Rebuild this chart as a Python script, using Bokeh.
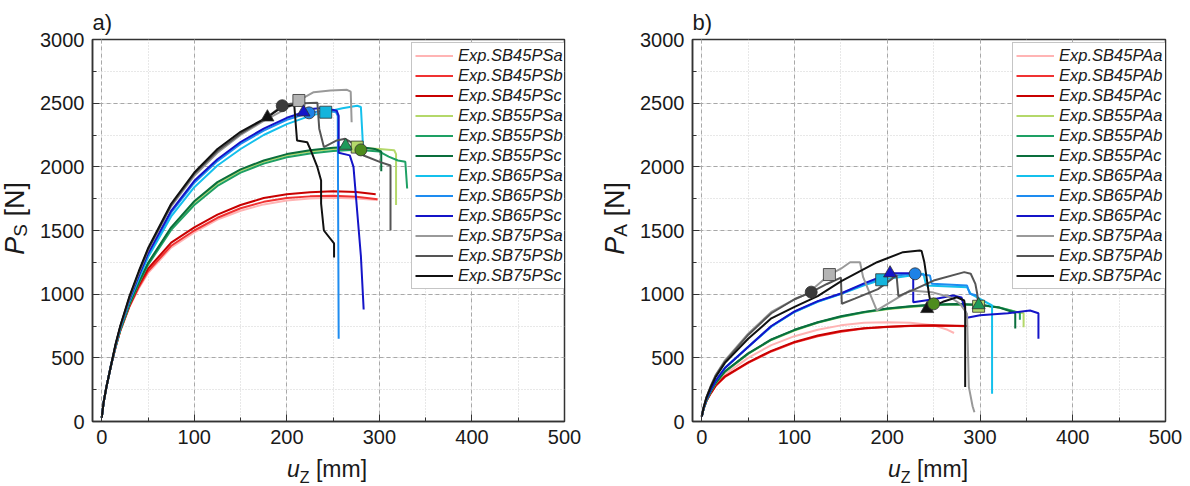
from bokeh.plotting import figure
from bokeh.layouts import row, column
from bokeh.models import Legend, LegendItem, SingleIntervalTicker, Range1d, Div
from bokeh.embed import file_html
from bokeh.resources import INLINE

# ---------------- data: panel a) (P_S) ----------------
a45a_x = [0, 2, 5, 10, 15, 20, 30, 40, 50, 75, 100, 125, 150, 175, 200, 225, 250, 275, 298]
a45a_y = [30, 150, 270, 440, 585, 710, 900, 1045, 1165, 1365, 1485, 1585, 1655, 1705, 1735, 1752, 1758, 1752, 1740]
a45b_x = [0, 2, 5, 10, 15, 20, 30, 40, 50, 75, 100, 125, 150, 175, 200, 225, 250, 275, 298]
a45b_y = [30, 150, 270, 440, 585, 712, 905, 1055, 1180, 1380, 1500, 1600, 1675, 1725, 1755, 1768, 1772, 1765, 1745]
a45c_x = [0, 2, 5, 10, 15, 20, 30, 40, 50, 75, 100, 125, 150, 175, 200, 225, 250, 275, 296]
a45c_y = [30, 150, 270, 440, 585, 715, 910, 1070, 1200, 1405, 1525, 1625, 1700, 1755, 1785, 1800, 1808, 1803, 1785]

a55a_x = [0, 2, 5, 10, 15, 20, 30, 40, 50, 75, 100, 125, 150, 175, 200, 225, 250, 275, 300, 316, 318, 318]
a55a_y = [30, 150, 270, 440, 590, 720, 925, 1090, 1240, 1520, 1720, 1870, 1970, 2040, 2090, 2120, 2140, 2150, 2140, 2130, 2100, 1700]
a55b_x = [0, 2, 5, 10, 15, 20, 30, 40, 50, 75, 100, 125, 150, 175, 200, 225, 250, 275, 300, 310, 320, 328, 330]
a55b_y = [30, 150, 270, 440, 590, 718, 920, 1085, 1230, 1505, 1700, 1850, 1955, 2025, 2075, 2105, 2125, 2135, 2120, 2080, 2050, 2040, 1830]
a55c_x = [0, 2, 5, 10, 15, 20, 30, 40, 50, 75, 100, 125, 150, 175, 200, 225, 250, 275, 295, 302, 302]
a55c_y = [30, 150, 270, 440, 592, 722, 928, 1095, 1245, 1525, 1730, 1880, 1980, 2050, 2100, 2130, 2150, 2160, 2140, 2120, 1965]

a65a_x = [0, 2, 5, 10, 15, 20, 30, 40, 50, 75, 100, 125, 150, 175, 200, 225, 242, 260, 276, 280, 282, 283]
a65a_y = [30, 150, 270, 440, 595, 730, 945, 1120, 1290, 1610, 1840, 2010, 2140, 2250, 2335, 2400, 2430, 2460, 2480, 2470, 2200, 2120]
a65b_x = [0, 2, 5, 10, 15, 20, 30, 40, 50, 75, 100, 125, 150, 175, 200, 224, 240, 253, 255, 256]
a65b_y = [30, 150, 270, 440, 600, 735, 955, 1135, 1310, 1640, 1875, 2045, 2180, 2285, 2370, 2424, 2440, 2430, 2400, 650]
a65c_x = [0, 2, 5, 10, 15, 20, 30, 40, 50, 75, 100, 125, 150, 175, 200, 218, 229, 240, 254, 256, 256, 268, 272, 280, 283]
a65c_y = [30, 150, 270, 440, 600, 740, 960, 1145, 1320, 1655, 1890, 2060, 2195, 2300, 2385, 2429, 2456, 2463, 2440, 2400, 2110, 2090, 2000, 1300, 880]

a75a_x = [0, 2, 5, 10, 15, 20, 30, 40, 50, 75, 100, 125, 150, 175, 200, 213, 229, 247, 265, 269, 270]
a75a_y = [30, 150, 270, 440, 605, 745, 975, 1165, 1345, 1690, 1930, 2110, 2250, 2360, 2460, 2521, 2586, 2600, 2605, 2590, 2350]
a75b_x = [0, 2, 5, 10, 15, 20, 30, 40, 50, 75, 100, 125, 150, 175, 195, 204, 233, 235, 240, 254, 263, 276, 283, 301, 312, 312]
a75b_y = [30, 150, 270, 440, 605, 745, 975, 1170, 1350, 1700, 1945, 2125, 2260, 2370, 2480, 2495, 2503, 2300, 2155, 2207, 2220, 2167, 2089, 2037, 2010, 1500]
a75c_x = [0, 2, 5, 10, 15, 20, 30, 40, 50, 75, 100, 125, 150, 179, 195, 208, 211, 222, 226, 233, 237, 237, 240, 251, 251]
a75c_y = [30, 150, 270, 440, 610, 750, 985, 1180, 1360, 1710, 1955, 2140, 2275, 2390, 2470, 2485, 2207, 2193, 2128, 1997, 1893, 1712, 1500, 1398, 1288]

# markers panel a: (x, y)
a_mk_75a = (213, 2521); a_mk_75b = (195, 2480); a_mk_75c = (179, 2390)
a_mk_65a = (242, 2429); a_mk_65b = (224, 2424); a_mk_65c = (218, 2429)
a_mk_55a = (276, 2155); a_mk_55b = (280, 2133); a_mk_55c = (263.5, 2167)

# ---------------- data: panel b) (P_A) ----------------
b45a_x = [0, 2, 5, 10, 15, 25, 50, 75, 100, 125, 150, 175, 200, 225, 250, 265, 272]
b45a_y = [40, 100, 160, 230, 290, 370, 500, 600, 670, 720, 755, 775, 780, 775, 755, 720, 695]
b45b_x = [0, 2, 5, 10, 15, 25, 50, 75, 100, 125, 150, 175, 200, 225, 250, 275, 285]
b45b_y = [40, 100, 160, 225, 280, 350, 460, 550, 620, 670, 705, 730, 742, 750, 752, 750, 748]
b45c_x = [0, 2, 5, 10, 15, 25, 50, 75, 100, 125, 150, 175, 200, 225, 250, 275, 287]
b45c_y = [40, 100, 160, 225, 282, 355, 465, 555, 625, 675, 710, 733, 745, 752, 755, 752, 750]

b55a_x = [0, 2, 5, 10, 15, 25, 50, 75, 100, 125, 150, 175, 200, 225, 250, 275, 300, 320, 340, 347, 347]
b55a_y = [40, 100, 165, 240, 300, 390, 530, 640, 715, 775, 820, 855, 882, 900, 912, 918, 912, 895, 860, 850, 740]
b55b_x = [0, 2, 5, 10, 15, 25, 50, 75, 100, 125, 150, 175, 200, 225, 250, 275, 300, 320, 338, 343, 343]
b55b_y = [40, 100, 165, 240, 302, 392, 532, 642, 718, 778, 823, 858, 885, 903, 915, 920, 915, 898, 862, 855, 800]
b55c_x = [0, 2, 5, 10, 15, 25, 50, 75, 100, 125, 150, 175, 200, 225, 250, 275, 300, 320, 336, 338, 338]
b55c_y = [40, 100, 165, 242, 304, 395, 535, 645, 720, 780, 826, 861, 888, 906, 918, 922, 916, 896, 858, 850, 730]

b65a_x = [0, 2, 5, 10, 15, 25, 50, 75, 100, 125, 150, 175, 194, 220, 239, 242, 286, 290, 313, 313]
b65a_y = [40, 105, 175, 255, 320, 420, 585, 745, 860, 940, 1000, 1070, 1113, 1140, 1160, 1068, 1055, 1003, 911, 217]
b65b_x = [0, 2, 5, 10, 15, 25, 50, 75, 100, 125, 150, 175, 200, 230, 246, 248, 286, 289, 297, 299]
b65b_y = [40, 105, 175, 255, 320, 422, 588, 748, 862, 942, 1003, 1078, 1140, 1160, 1147, 1081, 1068, 1003, 990, 920]
b65c_x = [0, 2, 5, 10, 15, 25, 50, 75, 100, 125, 150, 175, 203, 232, 228, 228, 250, 271, 280, 286, 300, 330, 354, 363, 363]
b65c_y = [40, 105, 175, 255, 320, 420, 585, 750, 865, 945, 1005, 1085, 1165, 1165, 1150, 937, 960, 990, 975, 814, 835, 850, 872, 850, 650]

b75a_x = [0, 2, 5, 10, 15, 25, 50, 75, 100, 113, 138, 150, 160, 170.6, 174, 188.7, 224.6, 248, 268, 278.6, 286, 288, 292, 294]
b75a_y = [40, 110, 190, 285, 365, 480, 690, 860, 960, 1000, 1154, 1200, 1251, 1251, 1133, 872, 1029, 1016, 976, 924, 846, 270, 120, 73]
b75b_x = [0, 2, 5, 10, 15, 25, 50, 75, 100, 118, 135, 150, 151, 165, 190, 205, 210, 212, 230, 250, 283, 290, 295, 297, 298]
b75b_y = [40, 110, 190, 280, 360, 470, 680, 850, 960, 1016, 1080, 1130, 925, 965, 1040, 1120, 1150, 985, 1040, 1107, 1173, 1160, 1081, 1003, 930]
b75c_x = [0, 2, 5, 10, 15, 25, 50, 75, 100, 125, 150, 189, 217, 235, 237, 240, 245, 248, 243, 260, 275, 283, 284, 284]
b75c_y = [40, 110, 185, 275, 350, 460, 650, 810, 900, 985, 1100, 1251, 1330, 1343, 1340, 1250, 1000, 880, 885, 940, 976, 950, 900, 270]

b_mk_75a = (137.6, 1154); b_mk_75b = (118, 1016); b_mk_75c = (243, 885)
b_mk_65a = (194, 1113); b_mk_65b = (230, 1160); b_mk_65c = (203, 1165)
b_mk_55a = (298.5, 905); b_mk_55b = (250, 924); b_mk_55c = (298.5, 915)

suffixes = ["45a", "45b", "45c", "55a", "55b", "55c", "65a", "65b", "65c", "75a", "75b", "75c"]
colors = ["#ffb4b4", "#f03232", "#c80000",
          "#b4d86a", "#1ea064", "#0a6e3c",
          "#14c0ec", "#1e8cf0", "#1414c8",
          "#999999", "#555555", "#111111"]
marker_color = {"75a": "#b4b4b4", "75b": "#3a3a3a", "75c": "#111111",
                "65a": "#14b4dc", "65b": "#1e82e6", "65c": "#1414c8",
                "55a": "#b4d86a", "55b": "#4e8c1e", "55c": "#1e9a5a"}
marker_shape = {"a": "square", "b": "circle", "c": "triangle"}

FONT = "Liberation Sans"
TXT = "#1a1a1a"
TOP_B, FRAME_H, BOT_B = 39, 382, 35
YDIV_W = 30


def make_fig(tag, letter, series, markers, left_b, frame_w, right_b):
    p = figure(frame_width=frame_w, frame_height=FRAME_H,
               x_range=Range1d(-10, 500), y_range=Range1d(0, 3000),
               output_backend="svg", toolbar_location=None,
               min_border_left=left_b, min_border_right=right_b,
               min_border_top=TOP_B, min_border_bottom=BOT_B, margin=0)
    p.title.text = tag
    p.title.align = "left"
    p.title.text_font = FONT
    p.title.text_font_size = "22px"
    p.title.text_font_style = "normal"
    p.title.text_color = TXT
    p.title.standoff = 10
    p.background_fill_color = "white"
    p.border_fill_color = "white"
    p.outline_line_color = "#333333"
    p.outline_line_width = 1.5
    p.xaxis.ticker = SingleIntervalTicker(interval=100, num_minor_ticks=2)
    p.yaxis.ticker = SingleIntervalTicker(interval=500, num_minor_ticks=2)
    for ax in (p.xaxis, p.yaxis):
        ax.major_tick_in = 7
        ax.major_tick_out = 0
        ax.minor_tick_in = 4
        ax.minor_tick_out = 0
        ax.axis_line_color = "#333333"
        ax.axis_line_width = 1.5
        ax.major_tick_line_color = "#333333"
        ax.minor_tick_line_color = "#333333"
        ax.major_label_text_font = FONT
        ax.major_label_text_font_size = "20px"
        ax.major_label_text_color = TXT
    p.xaxis.major_label_standoff = 8
    p.yaxis.major_label_standoff = 8
    for g in (p.xgrid, p.ygrid):
        g.grid_line_color = "#a8a8a8"
        g.grid_line_dash = "4 3"
        g.grid_line_width = 1
        g.minor_grid_line_color = "#d0d0d0"
        g.minor_grid_line_dash = "1 2"
        g.minor_grid_line_width = 1

    items = []
    for suf, col in zip(suffixes, colors):
        xs, ys = series[suf]
        r = p.line(xs, ys, line_color=col, line_width=2)
        items.append(LegendItem(label="Exp.SB%sP%s%s" % (suf[:2], letter, suf[2]), renderers=[r]))
    for suf, (mx, my) in markers.items():
        p.scatter([mx], [my], marker=marker_shape[suf[2]], size=12 if suf[2] != "c" else 13,
                  fill_color=marker_color[suf], line_color="#303030", line_width=0.8)

    leg = Legend(items=items, location=(319 + (frame_w - 472), FRAME_H - 5 - 245))
    leg.label_text_font = FONT
    leg.label_text_font_style = "italic"
    leg.label_text_font_size = "16.5px"
    leg.label_text_color = TXT
    leg.glyph_width = 38
    leg.glyph_height = 19
    leg.label_height = 19
    leg.label_standoff = 5
    leg.spacing = 1
    leg.padding = 3
    leg.margin = 0
    leg.border_line_color = "#8c8c8c"
    leg.border_line_width = 1
    leg.background_fill_alpha = 1
    p.add_layout(leg)
    return p


def xlabel_div(width, left):
    html = ('<div style="font-family:\'Liberation Sans\';font-size:23px;line-height:23px;'
            'color:%s;padding-left:%dpx;padding-top:2px;white-space:nowrap">'
            '<i>u</i><span style="font-size:16px;vertical-align:-6px">Z</span> [mm]</div>' % (TXT, left))
    return Div(text=html, width=width, height=30, margin=0)


def ylabel_div(sub):
    html = ('<div style="writing-mode:vertical-rl;transform:rotate(180deg);white-space:nowrap;'
            'font-family:\'Liberation Sans\';font-size:27px;line-height:30px;width:30px;'
            'color:%s;margin-top:182px">'
            '<i>P</i><span style="font-size:19px;vertical-align:-6px">%s</span> [N]</div>' % (TXT, sub))
    return Div(text=html, width=YDIV_W, height=486, margin=0)


series_a = {"45a": (a45a_x, a45a_y), "45b": (a45b_x, a45b_y), "45c": (a45c_x, a45c_y),
            "55a": (a55a_x, a55a_y), "55b": (a55b_x, a55b_y), "55c": (a55c_x, a55c_y),
            "65a": (a65a_x, a65a_y), "65b": (a65b_x, a65b_y), "65c": (a65c_x, a65c_y),
            "75a": (a75a_x, a75a_y), "75b": (a75b_x, a75b_y), "75c": (a75c_x, a75c_y)}
markers_a = {"75a": a_mk_75a, "75b": a_mk_75b, "75c": a_mk_75c,
             "65a": a_mk_65a, "65b": a_mk_65b, "65c": a_mk_65c,
             "55a": a_mk_55a, "55b": a_mk_55b, "55c": a_mk_55c}
series_b = {"45a": (b45a_x, b45a_y), "45b": (b45b_x, b45b_y), "45c": (b45c_x, b45c_y),
            "55a": (b55a_x, b55a_y), "55b": (b55b_x, b55b_y), "55c": (b55c_x, b55c_y),
            "65a": (b65a_x, b65a_y), "65b": (b65b_x, b65b_y), "65c": (b65c_x, b65c_y),
            "75a": (b75a_x, b75a_y), "75b": (b75b_x, b75b_y), "75c": (b75c_x, b75c_y)}
markers_b = {"75a": b_mk_75a, "75b": b_mk_75b, "75c": b_mk_75c,
             "65a": b_mk_65a, "65b": b_mk_65b, "65c": b_mk_65c,
             "55a": b_mk_55a, "55b": b_mk_55b, "55c": b_mk_55c}

# panel a: page x 0..600 ; frame 92..564
LB = 92 - YDIV_W
pa = make_fig("a)", "S", series_a, markers_a, LB, 472, 36)
wa = LB + 472 + 36
col_a = column(pa, xlabel_div(wa, 287 - YDIV_W), spacing=0)
# panel b: page x 600..1190 ; frame 692..1165
pb = make_fig("b)", "A", series_b, markers_b, LB, 473, 25)
wb = LB + 473 + 25
col_b = column(pb, xlabel_div(wb, 888 - 600 - YDIV_W), spacing=0)

layout = row(ylabel_div("S"), col_a, ylabel_div("A"), col_b, spacing=0)
open("out.html", "w").write(file_html(layout, INLINE))
